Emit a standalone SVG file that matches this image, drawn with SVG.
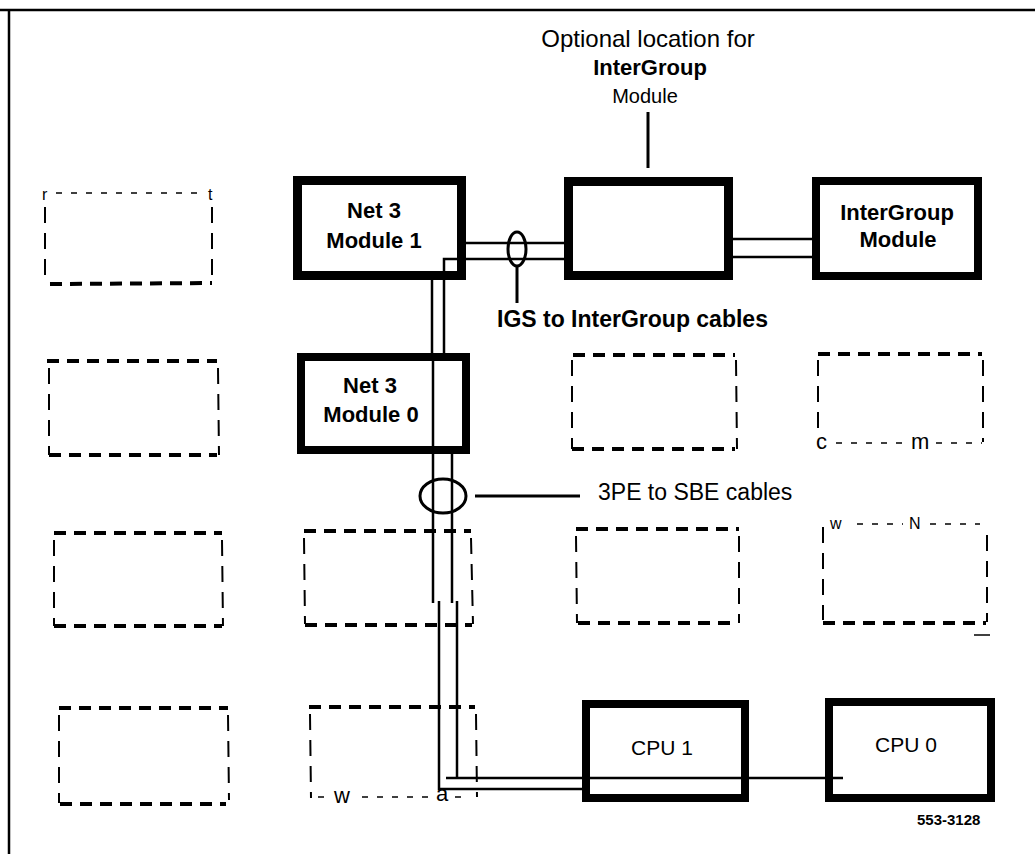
<svg xmlns="http://www.w3.org/2000/svg" width="1035" height="854" viewBox="0 0 1035 854">
<style>
  text { font-family: "Liberation Sans", Arial, sans-serif; fill: #000; }
  .b { font-weight: bold; }
  .heavy { stroke: #000; stroke-width: 4; stroke-dasharray: 12 8; fill: none; }
  .thin { stroke: #000; stroke-width: 2; stroke-dasharray: 16 10; fill: none; }
  .light { stroke: #000; stroke-width: 1.5; stroke-dasharray: 6 9; fill: none; }
  .cable { stroke: #000; stroke-width: 2.5; fill: none; }
  .lead { stroke: #000; stroke-width: 3; fill: none; }
  .box { fill: none; stroke: #000; }
</style>
<rect x="0" y="0" width="1035" height="854" fill="#fff"/>
<g id="frame">
  <line x1="0" y1="10" x2="1035" y2="10" stroke="#000" stroke-width="2.5"/>
  <line x1="9" y1="10" x2="9" y2="854" stroke="#000" stroke-width="2.5"/>
</g>

<g id="empty-slots">
  <g id="slot-r1c1">
    <line class="light" x1="56" y1="193" x2="203" y2="193"/>
    <line class="thin" x1="45" y1="207" x2="45" y2="283"/>
    <line class="thin" x1="212" y1="207" x2="212" y2="283"/>
    <line class="heavy" x1="50" y1="284" x2="212" y2="283"/>
    <text x="42" y="200" font-size="16">r</text>
    <text x="208" y="200" font-size="16">t</text>
  </g>
  <g id="slot-r2c1">
    <line class="heavy" x1="47" y1="361" x2="217" y2="361"/>
    <line class="thin" x1="49" y1="368" x2="49" y2="455"/>
    <line class="thin" x1="218" y1="368" x2="219" y2="455"/>
    <line class="heavy" x1="49" y1="455" x2="217" y2="455"/>
  </g>
  <g id="slot-r2c3">
    <line class="heavy" x1="573" y1="355" x2="735" y2="355"/>
    <line class="thin" x1="572" y1="360" x2="572" y2="449"/>
    <line class="thin" x1="736" y1="360" x2="737" y2="449"/>
    <line class="heavy" x1="572" y1="449" x2="735" y2="449"/>
  </g>
  <g id="slot-r2c4">
    <line class="heavy" x1="818" y1="354" x2="982" y2="354"/>
    <line class="thin" x1="818" y1="360" x2="818" y2="436"/>
    <line class="thin" x1="983" y1="360" x2="983" y2="442"/>
    <line class="light" x1="836" y1="443" x2="905" y2="443"/>
    <line class="light" x1="936" y1="443" x2="982" y2="443"/>
    <text x="816" y="449" font-size="22">c</text>
    <text x="911" y="449" font-size="22">m</text>
  </g>
  <g id="slot-r3c1">
    <line class="heavy" x1="54" y1="533" x2="222" y2="533"/>
    <line class="thin" x1="54" y1="540" x2="54" y2="626"/>
    <line class="thin" x1="222" y1="540" x2="223" y2="626"/>
    <line class="heavy" x1="54" y1="626" x2="222" y2="626"/>
  </g>
  <g id="slot-r3c2">
    <line class="heavy" x1="304" y1="531" x2="471" y2="531"/>
    <line class="thin" x1="304" y1="538" x2="305" y2="624"/>
    <line class="thin" x1="471" y1="538" x2="473" y2="624"/>
    <line class="heavy" x1="305" y1="625" x2="472" y2="625"/>
  </g>
  <g id="slot-r3c3">
    <line class="heavy" x1="576" y1="529" x2="739" y2="529"/>
    <line class="thin" x1="576" y1="536" x2="577" y2="623"/>
    <line class="thin" x1="739" y1="536" x2="739" y2="623"/>
    <line class="heavy" x1="578" y1="623" x2="738" y2="623"/>
  </g>
  <g id="slot-r3c4">
    <line class="light" x1="857" y1="524" x2="903" y2="524"/>
    <line class="light" x1="930" y1="524" x2="980" y2="524"/>
    <line class="thin" x1="823" y1="527" x2="823" y2="620"/>
    <line class="thin" x1="987" y1="535" x2="987" y2="622"/>
    <line class="heavy" x1="823" y1="623" x2="986" y2="623"/>
    <line x1="974" y1="635" x2="990" y2="635" stroke="#000" stroke-width="1.5"/>
    <text x="830" y="529" font-size="16">w</text>
    <text x="909" y="529" font-size="16">N</text>
  </g>
  <g id="slot-r4c1">
    <line class="heavy" x1="59" y1="708" x2="228" y2="708"/>
    <line class="thin" x1="59" y1="715" x2="59" y2="803"/>
    <line class="thin" x1="228" y1="715" x2="229" y2="800"/>
    <line class="heavy" x1="60" y1="804" x2="226" y2="804"/>
  </g>
  <g id="slot-r4c2">
    <line class="heavy" x1="309" y1="707" x2="475" y2="707"/>
    <line class="thin" x1="310" y1="714" x2="311" y2="798"/>
    <line class="thin" x1="476" y1="714" x2="477" y2="797"/>
    <line class="light" x1="318" y1="797" x2="330" y2="797"/>
    <line class="light" x1="362" y1="797" x2="432" y2="797"/>
    <line class="light" x1="455" y1="797" x2="470" y2="797"/>
    <text x="334" y="803" font-size="22">w</text>
    <text x="436" y="801" font-size="22">a</text>
  </g>
</g>

<g id="connectors">
  <line class="cable" x1="466" y1="243" x2="564" y2="243"/>
  <path class="cable" d="M564 259 H444 V353"/>
  <line class="cable" x1="733" y1="239" x2="812" y2="239"/>
  <line class="cable" x1="733" y1="257" x2="812" y2="257"/>
  <ellipse cx="517" cy="249" rx="9" ry="17" fill="none" stroke="#000" stroke-width="3"/>
  <line class="lead" x1="517" y1="266" x2="517" y2="303"/>
  <line class="cable" x1="432" y1="276" x2="432" y2="357"/>
  <line class="cable" x1="433" y1="357" x2="433" y2="603"/>
  <path class="cable" d="M439 601 V789 H584"/>
  <line class="cable" x1="452" y1="454" x2="452" y2="603"/>
  <line class="cable" x1="457" y1="601" x2="457" y2="778"/>
  <line class="cable" x1="446" y1="778" x2="843" y2="778"/>
  <ellipse cx="443" cy="496" rx="23" ry="17" fill="none" stroke="#000" stroke-width="3"/>
  <line class="lead" x1="475" y1="496" x2="580" y2="496"/>
  <line class="lead" x1="648" y1="112" x2="648" y2="168"/>
</g>

<g id="net3-module1">
  <rect class="box" x="297.5" y="180.5" width="164" height="95" stroke-width="9"/>
  <text class="b" x="374" y="218" font-size="22" text-anchor="middle">Net 3</text>
  <text class="b" x="374" y="248" font-size="22" text-anchor="middle">Module 1</text>
</g>
<g id="optional-intergroup">
  <rect class="box" x="568.5" y="181.5" width="160" height="94" stroke-width="9"/>
</g>
<g id="intergroup-module">
  <rect class="box" x="816" y="181" width="162" height="95" stroke-width="8"/>
  <text class="b" x="897" y="220" font-size="22" text-anchor="middle">InterGroup</text>
  <text class="b" x="898" y="247" font-size="22" text-anchor="middle">Module</text>
</g>
<g id="net3-module0">
  <rect class="box" x="301" y="357" width="165" height="93" stroke-width="8"/>
  <text class="b" x="370" y="393" font-size="22" text-anchor="middle">Net 3</text>
  <text class="b" x="371" y="422" font-size="22" text-anchor="middle">Module 0</text>
</g>
<g id="cpu1">
  <rect class="box" x="586" y="704" width="159" height="94" stroke-width="8"/>
  <text x="662" y="755" font-size="21" text-anchor="middle">CPU 1</text>
</g>
<g id="cpu0">
  <rect class="box" x="829" y="702" width="162" height="96" stroke-width="8"/>
  <text x="906" y="752" font-size="21" text-anchor="middle">CPU 0</text>
</g>

<g id="labels">
  <text x="648" y="47" font-size="24" text-anchor="middle">Optional location for</text>
  <text class="b" x="650" y="75" font-size="22" text-anchor="middle">InterGroup</text>
  <text x="645" y="103" font-size="20" text-anchor="middle">Module</text>
  <text class="b" x="497" y="327" font-size="23">IGS to InterGroup cables</text>
  <text x="598" y="500" font-size="23">3PE to SBE cables</text>
  <text class="b" x="917" y="825" font-size="15">553-3128</text>
</g>
</svg>
